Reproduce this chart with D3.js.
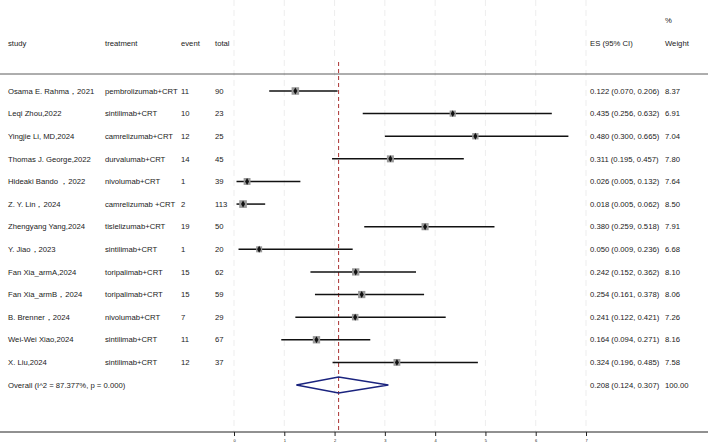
<!DOCTYPE html>
<html><head><meta charset="utf-8">
<script src="https://cdn.jsdelivr.net/npm/d3@7"></script>
<style>body{margin:0;background:#fff}text{font-family:"Liberation Sans",Arial,sans-serif;font-size:7.7px;fill:#222}</style>
</head><body><svg id="c" width="708" height="446"></svg>
<script>
const studies=["Osama E. Rahma，2021","Leqi Zhou,2022","Yingjie Li, MD,2024","Thomas J. George,2022","Hideaki Bando ，2022","Z. Y. Lin，2024","Zhengyang Yang,2024","Y. Jiao，2023","Fan Xia_armA,2024","Fan Xia_armB，2024","B. Brenner，2024","Wei-Wei Xiao,2024","X. Liu,2024"];
const treatments=["pembrolizumab+CRT","sintilimab+CRT","camrelizumab+CRT","durvalumab+CRT","nivolumab+CRT","camrelizumab +CRT","tislelizumab+CRT","sintilimab+CRT","toripalimab+CRT","toripalimab+CRT","nivolumab+CRT","sintilimab+CRT","sintilimab+CRT"];
const events=[11,10,12,14,1,2,19,1,15,15,7,11,12];
const totals=[90,23,25,45,39,113,50,20,62,59,29,67,37];
const es=[0.122,0.435,0.480,0.311,0.026,0.018,0.380,0.050,0.242,0.254,0.241,0.164,0.324];
const lo=[0.070,0.256,0.300,0.195,0.005,0.005,0.259,0.009,0.152,0.161,0.122,0.094,0.196];
const hi=[0.206,0.632,0.665,0.457,0.132,0.062,0.518,0.236,0.362,0.378,0.421,0.271,0.485];
const weights=[8.37,6.91,7.04,7.80,7.64,8.50,7.91,6.68,8.10,8.06,7.26,8.16,7.58];
const overall={label:"Overall  (I^2 = 87.377%, p = 0.000)",es:0.208,lo:0.124,hi:0.307,w:"100.00"};
const ticks=[0,1,2,3,4,5,6,7];

const svg=d3.select("#c");
const x=d3.scaleLinear().domain([0,7]).range([234,586]);
const v=d=>x(d*10);
const y=d3.scaleLinear().domain([0,13]).range([91,385]);
svg.selectAll(".g").data(ticks).enter().append("line").attr("x1",d=>x(d)).attr("x2",d=>x(d)).attr("y1",0).attr("y2",432).attr("stroke","#e8e8e8").attr("stroke-dasharray","6,4").attr("stroke-width",0.8);
svg.append("line").attr("x1",0).attr("x2",708).attr("y1",74).attr("y2",74).attr("stroke","#333").attr("stroke-width",0.8);
const ax=svg.append("g").attr("transform","translate(0,432)").call(d3.axisBottom(x).tickValues(ticks).tickSize(4).tickFormat(d3.format("d")));
ax.select(".domain").remove();
ax.selectAll("text").style("font-size","4px").attr("fill","#555");
ax.selectAll("line").attr("stroke","#222").attr("stroke-width",1);
svg.append("line").attr("x1",0).attr("x2",708).attr("y1",432).attr("y2",432).attr("stroke","#222").attr("stroke-width",1);
svg.append("line").attr("x1",v(overall.es)).attr("x2",v(overall.es)).attr("y1",62).attr("y2",432).attr("stroke","#a33").attr("stroke-dasharray","4,3").attr("stroke-width",1);
const hdr=[["study",8],["treatment",105],["event",181],["total",215],["ES (95% CI)",590],["Weight",665]];
hdr.forEach(([t,px])=>svg.append("text").attr("x",px).attr("y",46).text(t));
svg.append("text").attr("x",665).attr("y",23).text("%");
const f=d3.format(".3f");
studies.forEach((s,i)=>{
  const yy=y(i);
  svg.append("text").attr("x",8).attr("y",yy+2.7).text(s);
  svg.append("text").attr("x",105).attr("y",yy+2.7).text(treatments[i]);
  svg.append("text").attr("x",181).attr("y",yy+2.7).text(events[i]);
  svg.append("text").attr("x",215).attr("y",yy+2.7).text(totals[i]);
  svg.append("text").attr("x",590).attr("y",yy+2.7).text(`${f(es[i])} (${f(lo[i])}, ${f(hi[i])})`);
  svg.append("text").attr("x",665).attr("y",yy+2.7).text(weights[i].toFixed(2));
  svg.append("line").attr("x1",v(lo[i])).attr("x2",v(hi[i])).attr("y1",yy).attr("y2",yy).attr("stroke","#111").attr("stroke-width",1.5);
  const sz=weights[i]*0.9;
  svg.append("rect").attr("x",v(es[i])-sz/2).attr("y",yy-sz/2).attr("width",sz).attr("height",sz).attr("fill","#999");
  svg.append("path").attr("d",d3.symbol(d3.symbolDiamond,14)()).attr("transform",`translate(${v(es[i])},${yy})`).attr("fill","#111");
});
const oy=y(13);
svg.append("text").attr("x",8).attr("y",oy+2.7).text(overall.label);
svg.append("text").attr("x",590).attr("y",oy+2.7).text(`${f(overall.es)} (${f(overall.lo)}, ${f(overall.hi)})`);
svg.append("text").attr("x",665).attr("y",oy+2.7).text(overall.w);
svg.append("path").attr("d",`M${v(overall.lo)},${oy}L${v(overall.es)},${oy-8}L${v(overall.hi)},${oy}L${v(overall.es)},${oy+8}Z`).attr("fill","none").attr("stroke","#1a237e").attr("stroke-width",1.4);
</script></body></html>
